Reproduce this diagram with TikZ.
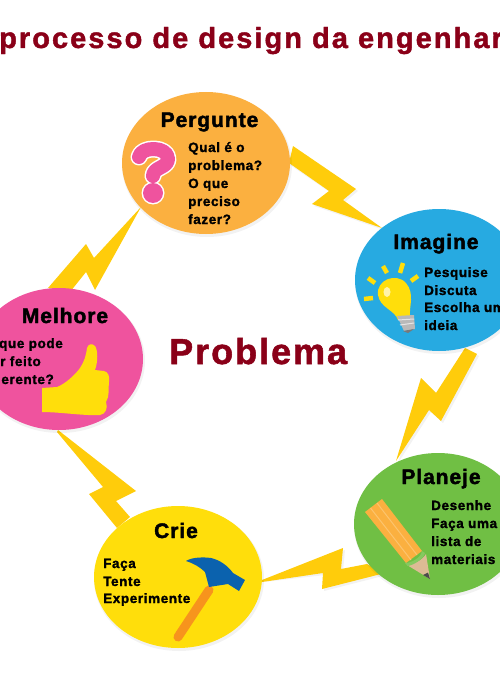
\documentclass[tikz,border=0pt]{standalone}
\usepackage{fontspec}
\setmainfont{Liberation Sans}
\newfontfamily\titlefont[LetterSpace=7,FakeBold=1.5]{Liberation Sans Bold}
\newfontfamily\headfont[LetterSpace=4.5,FakeBold=2]{Liberation Sans Bold}
\newfontfamily\bodyfont[LetterSpace=4.5,FakeBold=1.5]{Liberation Sans Bold}
\newfontfamily\probfont[LetterSpace=5.5,FakeBold=1.5]{Liberation Sans Bold}
\definecolor{bolt}{HTML}{FFCC0B}
\definecolor{maroon}{HTML}{8A0018}
\definecolor{cOrange}{HTML}{FBB040}
\definecolor{cBlue}{HTML}{27AAE1}
\definecolor{cPink}{HTML}{EF539E}
\definecolor{cYellow}{HTML}{FFDE0B}
\definecolor{cGreen}{HTML}{70BF44}
\definecolor{hammerHead}{HTML}{0B62AE}
\definecolor{hammerHandle}{HTML}{F7941D}
\definecolor{pencilStripe}{HTML}{FCC46E}
\definecolor{pencilWood}{HTML}{DDBB95}
\tikzset{
  x=1pt,y=-1pt,
  lobe/.style={draw=none,ellipse,minimum width=168pt,minimum height=142pt,inner sep=0pt},
  shade/.style={fill=black,opacity=0.05},
  head/.style={anchor=base,inner sep=0pt,font=\headfont\fontsize{21}{23}\selectfont},
  body/.style={anchor=base west,inner sep=0pt,font=\bodyfont\fontsize{13.5}{15}\selectfont},
  bodyr/.style={anchor=base east,inner sep=0pt,font=\bodyfont\fontsize{13.5}{15}\selectfont},
  boltshape/.style={fill=bolt,draw=none},
}
\usetikzlibrary{shapes.geometric}
\begin{document}
\begin{tikzpicture}
\useasboundingbox (0,0) rectangle (500,682);
\clip (0,0) rectangle (500,682);
% bolts
\fill[shade] (294,148)--(358,191)--(345,202)--(384,230)--(314,206)--(331,193)--(290,165)--cycle;
\fill[shade] (467,350)--(479,356)--(443,423)--(431,412)--(398,463)--(423,380)--(438,395)--cycle;
\fill[shade] (264,582)--(345,550)--(343,571)--(369,566)--(387,575)--(324,591)--(325,575)--cycle;
\fill[boltshape] (293,146)--(356,189)--(343,200)--(382,228)--(312,204)--(329,191)--(289,163)--cycle;
\fill[boltshape] (465,348)--(477,354)--(441,421)--(429,410)--(396,461)--(421,378)--(436,393)--cycle;
\fill[boltshape] (262,580)--(343,548)--(341,569)--(367,564)--(385,573)--(322,589)--(323,573)--(262,582)--cycle;
\fill[boltshape] (58,430)--(136,491)--(116,501)--(130,517)--(117,528)--(89,494)--(103,487)--(57,432)--cycle;
\fill[boltshape] (141,207)--(95,290)--(86,272)--(70,292)--(48,288)--(86,244)--(94,258)--cycle;
% shadows
\fill[shade] (207,165) ellipse [x radius=85,y radius=72];
\fill[shade] (440,282) ellipse [x radius=85,y radius=72];
\fill[shade] (60,361) ellipse [x radius=85,y radius=72];
\fill[shade] (179,579) ellipse [x radius=85,y radius=72];
\fill[shade] (439,526) ellipse [x radius=85,y radius=72];
% lobes
\node[lobe,fill=cOrange] (pergunte) at (206,163) {};
\node[lobe,fill=cBlue] (imagine) at (439,280) {};
\node[lobe,fill=cPink] (melhore) at (59,359) {};
\node[lobe,fill=cYellow] (crie) at (178,577) {};
\node[lobe,fill=cGreen] (planeje) at (438,524) {};
% title and centre
\node[anchor=base west,inner sep=0pt,text=maroon,font=\titlefont\fontsize{29}{31}\selectfont] (title) at (-1,48) {processo de design da engenhar};
\node[anchor=base west,inner sep=0pt,text=maroon,font=\probfont\fontsize{36}{38}\selectfont] (problema) at (169,364) {Problema};
% Pergunte
\node[head] (h1) at (209.5,127) {Pergunte};
\node[body] (p1) at (188,152) {Qual é o};
\node[body] (p2) at (188,170) {problema?};
\node[body] (p3) at (188,188) {O que};
\node[body] (p4) at (188,206) {preciso};
\node[body] (p5) at (188,224) {fazer?};
% question mark
\draw[white,line width=17pt,line cap=round,line join=round] (139,157) .. controls (141,146) and (168,146) .. (168,159) .. controls (168,168) and (153,167) .. (153,176);
\fill[white] (153,193) circle (11.5);
\draw[cPink,line width=14pt,line cap=round,line join=round] (139,157) .. controls (141,146) and (168,146) .. (168,159) .. controls (168,168) and (153,167) .. (153,176);
\fill[cPink] (153,193) circle (10);
% Imagine
\node[head] (h2) at (436,249) {Imagine};
\node[body] (i1) at (424,277) {Pesquise};
\node[body] (i2) at (424,295) {Discuta};
\node[body] (i3) at (424,312) {Escolha um};
\node[body] (i4) at (424,330) {ideia};
% bulb
\begin{scope}[cYellow,line width=4.5pt]
\draw (368,278)--(375,283);
\draw (383,266)--(387,273);
\draw (403,263)--(400,273);
\draw (418,276)--(411,281);
\draw (364,299)--(373,298);
\end{scope}
\fill[cYellow] (378,295) .. controls (376,280) and (396,272) .. (406,283) .. controls (415,294) and (409,306) .. (410,316) -- (398,320) .. controls (395,310) and (380,308) .. (378,295) -- cycle;
\fill[white,opacity=0.65] (387,292) ellipse [x radius=3.5,y radius=5];
\fill[gray!55] (397,316)--(414,315)--(415,329)--(404,331)--cycle;
\draw[gray!20,line width=1pt] (398,320)--(414,319) (400,325)--(414,323);
\fill[gray!95!black] (403,331)--(414,329)--(408,333)--cycle;
% Melhore
\node[head] (h3) at (65,323) {Melhore};
\node[bodyr] (m1) at (63,348) {que pode};
\node[bodyr] (m2) at (41,366) {r feito};
\node[bodyr] (m3) at (54,384) {erente?};
% thumb
\fill[cYellow] (42,388)--(42,412) .. controls (60,412) and (85,416) .. (100,415) .. controls (106,414) and (108,408) .. (106,402) .. controls (110,396) and (108,388) .. (109,382) .. controls (110,376) and (108,372) .. (104,371) -- (95,370) .. controls (98,362) and (98,350) .. (95,346) .. controls (92,343) and (88,344) .. (87,348) .. controls (86,356) and (84,362) .. (80,368) .. controls (75,375) and (65,384) .. (57,387) -- cycle;
% Crie
\node[head] (h4) at (176,538) {Crie};
\node[body] (c1) at (103,568) {Faça};
\node[body] (c2) at (103,586) {Tente};
\node[body] (c3) at (103,603) {Experimente};
% hammer
\draw[hammerHandle,line width=9pt,line cap=round] (209,590)--(178,637);
\fill[hammerHead] (186,561) .. controls (192,557) and (204,557) .. (211,558) .. controls (220,560) and (228,566) .. (233,573) -- (245,580)--(239,591)--(228,584)--(209,587)--(205,572) .. controls (200,567) and (193,563) .. (186,561) -- cycle;
% Planeje
\node[head] (h5) at (441,484) {Planeje};
\node[body] (l1) at (431,510) {Desenhe};
\node[body] (l2) at (431,528) {Faça uma};
\node[body] (l3) at (431,546) {lista de};
\node[body] (l4) at (431,564) {materiais};
% pencil
\fill[cOrange] (365,512)--(382,499)--(422,551)--(406,563)--cycle;
\draw[pencilStripe,line width=1pt] (370.5,508)--(411,560) (377,503)--(417,555);
\fill[pencilWood] (407,565) .. controls (413,564) and (422,561) .. (426,554) -- (430,579) --cycle;
\fill[cGreen!85!white] (405,563) .. controls (411,563) and (421,558) .. (422,551) -- (425,553) .. controls (423,560) and (413,565) .. (408,566) --cycle;
\fill[black!70] (423,575)--(428,572.5)--(430,579)--cycle;
\end{tikzpicture}
\end{document}
